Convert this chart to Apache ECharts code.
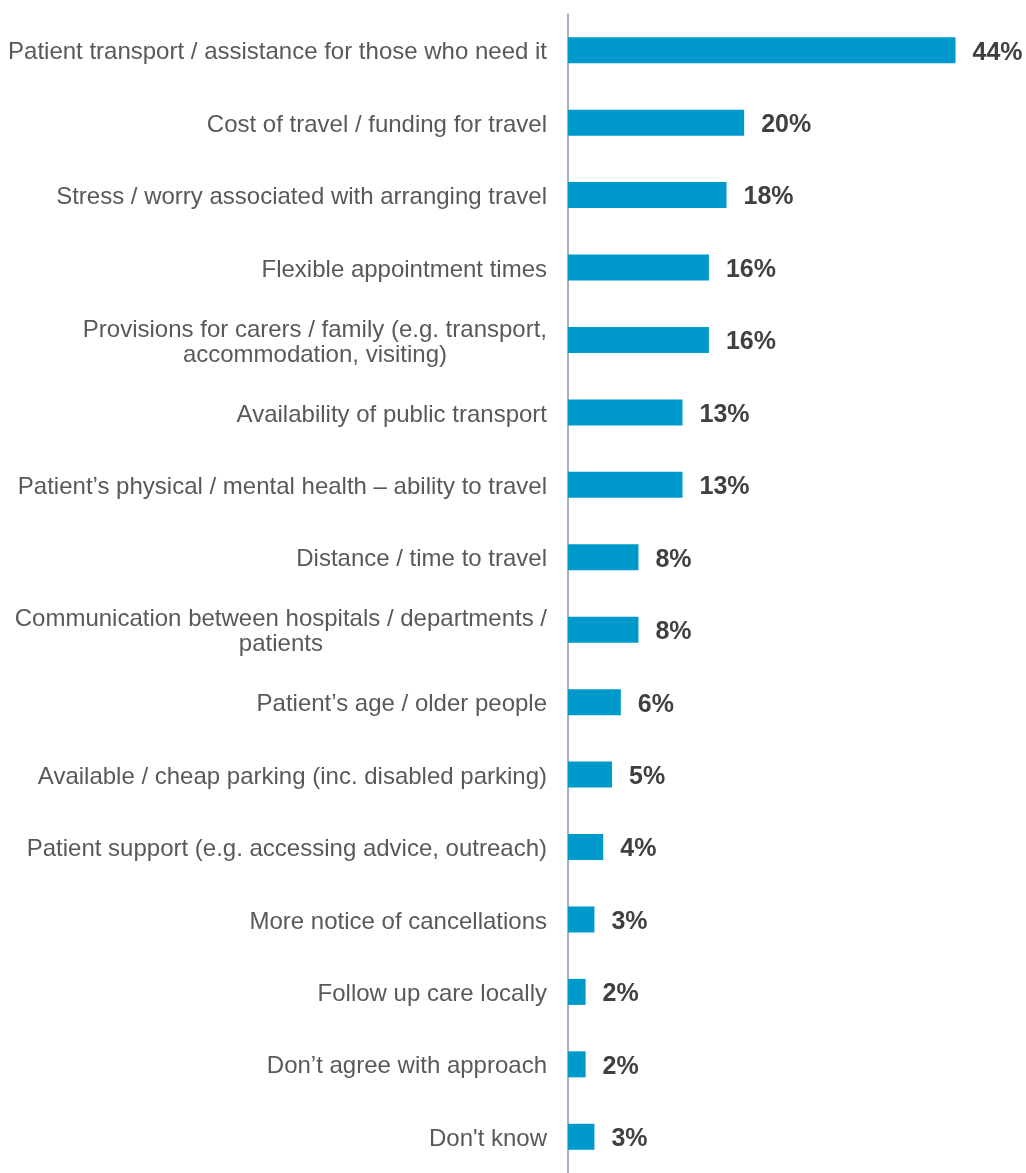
<!DOCTYPE html>
<html><head><meta charset="utf-8">
<script src="https://cdn.jsdelivr.net/npm/echarts@6/dist/echarts.min.js"></script>
<style>html,body{margin:0;padding:0;background:#fff}#c{width:1026px;height:1173px}</style>
</head><body><div id="c"></div>
<script>
const categories = [
  "Patient transport / assistance for those who need it",
  "Cost of travel / funding for travel",
  "Stress / worry associated with arranging travel",
  "Flexible appointment times",
  "Provisions for carers / family (e.g. transport,\naccommodation, visiting)",
  "Availability of public transport",
  "Patient\u2019s physical / mental health \u2013 ability to travel",
  "Distance / time to travel",
  "Communication between hospitals / departments /\npatients",
  "Patient\u2019s age / older people",
  "Available / cheap parking (inc. disabled parking)",
  "Patient support (e.g. accessing advice, outreach)",
  "More notice of cancellations",
  "Follow up care locally",
  "Don\u2019t agree with approach",
  "Don't know"
];
const values = [44, 20, 18, 16, 16, 13, 13, 8, 8, 6, 5, 4, 3, 2, 2, 3];

const FONT = '"Liberation Sans", Arial, sans-serif';
const chart = echarts.init(document.getElementById('c'), null, {renderer: 'canvas'});
chart.setOption({
  animation: false,
  grid: {left: 568, right: 0, top: 14, height: 1168, containLabel: false},
  xAxis: {type: 'value', min: 0, max: 52, show: false},
  yAxis: {
    type: 'category', inverse: true, data: categories,
    axisLine: {show: true, lineStyle: {color: '#8496AE', width: 1.5}},
    axisTick: {show: false},
    axisLabel: {
      margin: 21, fontFamily: FONT, fontSize: 24, color: '#595959',
      lineHeight: 25, padding: [5, 0, 0, 0],
      formatter: function (v) { return v.split('\n').map(s => '{c|' + s + '}').join('\n'); },
      rich: {c: {align: 'center', fontFamily: FONT, fontSize: 24, color: '#595959', lineHeight: 25}}
    }
  },
  series: [{
    type: 'bar', data: values, barWidth: 26,
    itemStyle: {color: '#0099CC'},
    label: {
      show: true, position: 'right', distance: 17, offset: [0, 2.5],
      formatter: '{c}%', fontFamily: FONT,
      fontSize: 25, fontWeight: 'bold', color: '#404040'
    }
  }]
});
</script></body></html>
